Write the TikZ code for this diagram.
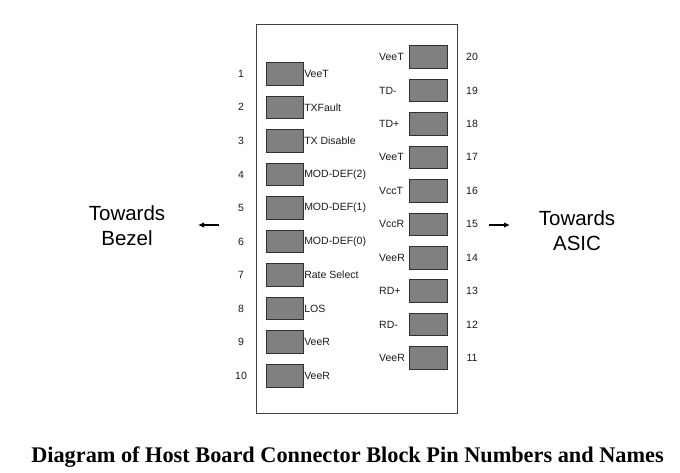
\documentclass[tikz,border=0pt]{standalone}
\usepackage{fontspec}
\setmainfont{Liberation Sans}
\newfontfamily\captionfont{Liberation Serif}
\usetikzlibrary{arrows.meta}

\definecolor{PadGray}{HTML}{808080}
\definecolor{PadEdge}{HTML}{303030}
\definecolor{BoxEdge}{HTML}{404040}
\definecolor{PinText}{HTML}{1A1A1A}

\tikzset{
    pad/.style={draw=PadEdge, fill=PadGray, line width=0.9pt, minimum width=37pt, minimum height=22.5pt, inner sep=0pt},
    pinname/.style={font=\fontsize{10.5}{12}\selectfont, text=PinText, inner sep=0pt, anchor=west},
    pinnum/.style={font=\fontsize{10.5}{12}\selectfont, text=PinText, inner sep=0pt},
    towards/.style={font=\fontsize{20.5}{25}\selectfont, align=center, inner sep=0pt},
    towardsarrow/.style={-{Latex[length=6pt,width=5.5pt]}, line width=1.4pt}
}

\begin{document}
\begin{tikzpicture}[x=1pt, y=-1pt]
    \useasboundingbox (0,0) rectangle (680,473);
    \coordinate (BoxNW) at (256,24);
    \coordinate (BoxSE) at (457,413);
    \draw [BoxEdge, line width=0.9pt] (BoxNW) rectangle (BoxSE);% Draw connector block
    % left row, pins 1 to 10
    \foreach \pin/\name in {1/VeeT, 2/TXFault, 3/TX Disable, 4/{MOD-DEF(2)}, 5/{MOD-DEF(1)},
                            6/{MOD-DEF(0)}, 7/Rate Select, 8/LOS, 9/VeeR, 10/VeeR} {
        \pgfmathsetmacro{\ypos}{73.75 + (\pin-1)*33.55}
        \node [pad] (Pad\pin) at (284.5,\ypos) {};
        \node [pinname, xshift=0.6pt] (Name\pin) at (Pad\pin.east) {\name};
        \node [pinnum] (Num\pin) at (241,\ypos) {\pin};
    }
    % right row, pins 20 down to 11
    \foreach \pin/\name in {20/VeeT, 19/TD-, 18/TD+, 17/VeeT, 16/VccT,
                            15/VccR, 14/VeeR, 13/RD+, 12/RD-, 11/VeeR} {
        \pgfmathsetmacro{\ypos}{57 + (20-\pin)*33.45}
        \node [pad, minimum width=38pt] (Pad\pin) at (428,\ypos) {};
        \node [pinname] (Name\pin) at (379,\ypos) {\name};
        \node [pinnum] (Num\pin) at (472,\ypos) {\pin};
    }
    \node [towards] (Bezel) at (127,226) {Towards\\Bezel};
    \node [towards] (Asic) at (577,231) {Towards\\ASIC};
    \coordinate (BezelTail) at (219,225);
    \coordinate (BezelHead) at (198,225);
    \coordinate (AsicTail) at (489,225);
    \coordinate (AsicHead) at (510,225);
    \draw [towardsarrow] (BezelTail) -- (BezelHead);
    \draw [towardsarrow] (AsicTail) -- (AsicHead);
    \node [font=\captionfont\bfseries\fontsize{22.3}{26}\selectfont, anchor=base, inner sep=0pt] (Caption) at (347.5,462)
        {Diagram of Host Board Connector Block Pin Numbers and Names};
\end{tikzpicture}
\end{document}
